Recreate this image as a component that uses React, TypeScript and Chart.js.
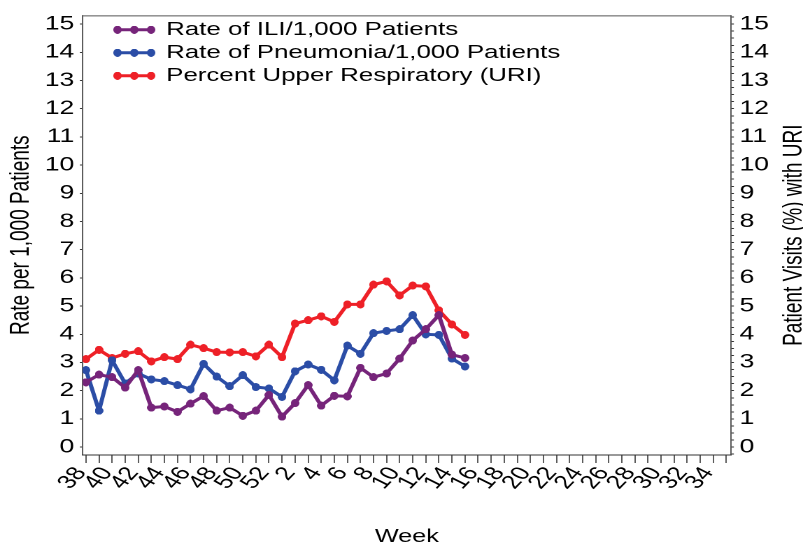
import React, { useEffect, useRef } from "react";
import { Chart, registerables } from "chart.js";

Chart.register(...registerables);

// ---------------- data ----------------
const weekLabels = [
  38, 39, 40, 41, 42, 43, 44, 45, 46, 47, 48, 49, 50, 51, 52,
  1, 2, 3, 4, 5, 6, 7, 8, 9, 10, 11, 12, 13, 14, 15, 16, 17, 18, 19, 20,
  21, 22, 23, 24, 25, 26, 27, 28, 29, 30, 31, 32, 33, 34, 35,
];

const iliRate = [
  2.30, 2.57, 2.48, 2.11, 2.73, 1.40, 1.44, 1.25, 1.54, 1.81, 1.29, 1.40, 1.11, 1.29, 1.85,
  1.08, 1.56, 2.20, 1.47, 1.82, 1.80, 2.81, 2.48, 2.61, 3.14, 3.78, 4.18, 4.68, 3.28, 3.16,
];

const pneumoniaRate = [
  2.73, 1.29, 3.08, 2.26, 2.61, 2.40, 2.34, 2.20, 2.05, 2.95, 2.50, 2.16, 2.55, 2.13, 2.08,
  1.78, 2.69, 2.93, 2.74, 2.37, 3.60, 3.31, 4.04, 4.12, 4.18, 4.68, 4.00, 3.98, 3.14, 2.86,
];

const uriPercent = [
  3.12, 3.45, 3.16, 3.31, 3.40, 3.04, 3.19, 3.12, 3.63, 3.51, 3.37, 3.36, 3.37, 3.22, 3.63,
  3.19, 4.38, 4.50, 4.64, 4.44, 5.06, 5.06, 5.76, 5.88, 5.38, 5.73, 5.70, 4.85, 4.35, 3.98,
];

const seriesNames = [
  "Rate of ILI/1,000 Patients",
  "Rate of Pneumonia/1,000 Patients",
  "Percent Upper Respiratory (URI)",
];
const leftTitle = "Rate per 1,000 Patients";
const rightTitle = "Patient Visits (%) with URI";
const xTitle = "Week";

// ---------------- style ----------------
const COLORS = ["#76247A", "#2B4DA6", "#EE2027"];
const FONT = "'Liberation Sans', Arial, sans-serif";
const CSS_W = 803;
const CSS_H = 544;
const STRETCH = 1.4;
const W = Math.round(CSS_W / STRETCH);
const H = CSS_H;
const AXIS_COLOR = "#333";

function makeImage(w: number, h: number, draw: (ctx: CanvasRenderingContext2D) => void): Promise<HTMLImageElement> {
  const s = 6;
  const c = document.createElement("canvas");
  c.width = w * s;
  c.height = h * s;
  const ctx = c.getContext("2d")!;
  ctx.scale(s, s);
  draw(ctx);
  const img = new Image();
  img.width = w;
  img.height = h;
  return new Promise((resolve) => {
    img.onload = () => resolve(img);
    img.onerror = () => resolve(img);
    img.src = c.toDataURL();
  });
}

function markerImage(color: string) {
  const w = 6, h = 8;
  return makeImage(w, h, (ctx) => {
    ctx.fillStyle = color;
    ctx.beginPath();
    ctx.ellipse(w / 2, h / 2, w / 2, h / 2, 0, 0, Math.PI * 2);
    ctx.fill();
  });
}

function legendImage(color: string) {
  const w = 30, h = 8;
  return makeImage(w, h, (ctx) => {
    ctx.strokeStyle = color;
    ctx.fillStyle = color;
    ctx.lineWidth = 3;
    ctx.beginPath();
    ctx.moveTo(3, h / 2);
    ctx.lineTo(w - 3, h / 2);
    ctx.stroke();
    [3, w / 2, w - 3].forEach((cx) => {
      ctx.beginPath();
      ctx.ellipse(cx, h / 2, 3, 4, 0, 0, Math.PI * 2);
      ctx.fill();
    });
  });
}

const framePlugin = {
  id: "frameTop",
  afterDraw(chart: any) {
    const { ctx, chartArea } = chart;
    ctx.save();
    ctx.strokeStyle = "#555";
    ctx.lineWidth = 1;
    ctx.beginPath();
    ctx.moveTo(chartArea.left, chartArea.top + 0.5);
    ctx.lineTo(chartArea.right, chartArea.top + 0.5);
    ctx.stroke();
    ctx.restore();
  },
};

const rightTitlePlugin = {
  id: "rightTitle",
  afterDraw(chart: any) {
    const { ctx, chartArea } = chart;
    ctx.save();
    ctx.translate(W - 6, (chartArea.top + chartArea.bottom) / 2);
    ctx.rotate(-Math.PI / 2);
    ctx.font = `19px ${FONT}`;
    ctx.fillStyle = "#000";
    ctx.textAlign = "center";
    ctx.textBaseline = "middle";
    ctx.fillText(rightTitle, 0, 0);
    ctx.restore();
  },
};

const legendPlacePlugin = {
  id: "legendPlace",
  afterLayout(chart: any) {
    const lg = chart.legend;
    if (!lg) return;
    const w = lg.width, h = lg.height;
    lg.left = 78;
    lg.right = 78 + w;
    lg.top = 16;
    lg.bottom = 16 + h;
  },
};

export default function App() {
  const ref = useRef<HTMLCanvasElement | null>(null);

  useEffect(() => {
    let chart: Chart | null = null;
    let cancelled = false;
    Promise.all([
      ...COLORS.map((c) => markerImage(c)),
      ...COLORS.map((c) => legendImage(c)),
    ]).then((imgs) => {
      if (cancelled || !ref.current) return;
      const markers = imgs.slice(0, 3);
      const legendImgs = imgs.slice(3);
      const series = [iliRate, pneumoniaRate, uriPercent];
      const tickFont = { size: 19, family: FONT };

      chart = new Chart(ref.current, {
        type: "line",
        data: {
          datasets: series.map((vals, i) => ({
            label: seriesNames[i],
            data: vals.map((v, k) => ({ x: k, y: v })),
            borderColor: COLORS[i],
            backgroundColor: COLORS[i],
            borderWidth: 3,
            pointStyle: markers[i] as any,
            pointRadius: 3,
            tension: 0,
            borderJoinStyle: "round",
            yAxisID: i === 2 ? "y2" : "y",
          })),
        },
        options: {
          responsive: false,
          devicePixelRatio: 2,
          animation: false,
          events: [],
          layout: { padding: { top: 9, left: 0, right: 0, bottom: 0 } },
          plugins: {
            tooltip: { enabled: false },
            legend: {
              position: "chartArea",
              align: "start",
              labels: {
                usePointStyle: true,
                pointStyleWidth: 27,
                padding: 4.5,
                color: "#000",
                font: { size: 18.5, family: FONT },
                generateLabels: (c: any) =>
                  c.data.datasets.map((ds: any, i: number) => ({
                    text: ds.label,
                    pointStyle: legendImgs[i],
                    fillStyle: COLORS[i],
                    strokeStyle: COLORS[i],
                    lineWidth: 0,
                    hidden: false,
                    datasetIndex: i,
                    fontColor: "#000",
                  })),
              },
            },
          },
          scales: {
            x: {
              type: "linear",
              min: -0.25,
              max: 49.36,
              afterFit: (s: any) => {
                s.height = 89;
              },
              border: { color: AXIS_COLOR, width: 1 },
              grid: { drawOnChartArea: false, tickLength: 8, tickColor: AXIS_COLOR, tickWidth: 0.8 },
              ticks: {
                stepSize: 1,
                includeBounds: false,
                autoSkip: false,
                maxRotation: 55,
                minRotation: 55,
                padding: 0,
                labelOffset: -3.5,
                color: "#000",
                font: tickFont,
                callback: (v: any) => {
                  const wk = weekLabels[Math.round(Number(v))];
                  return wk !== undefined && wk % 2 === 0 ? String(wk) : "";
                },
              },
              title: {
                display: true,
                text: xTitle,
                color: "#000",
                font: { size: 18, family: FONT, lineHeight: 0.8 },
                padding: { top: 0, bottom: 0 },
              },
            },
            y: {
              position: "left",
              min: -0.28,
              max: 15.31,
              afterFit: (s: any) => {
                s.width = 59.1;
              },
              border: { color: AXIS_COLOR, width: 0.8 },
              grid: { drawOnChartArea: false, tickLength: 2, tickColor: AXIS_COLOR, tickWidth: 1 },
              ticks: {
                stepSize: 1,
                includeBounds: false,
                autoSkip: false,
                padding: 4,
                color: "#000",
                font: tickFont,
                callback: (v: any) => String(Math.round(Number(v))),
              },
              title: {
                display: true,
                text: leftTitle,
                color: "#000",
                font: { size: 19, family: FONT },
                padding: { top: 4, bottom: 0 },
              },
            },
            y2: {
              position: "right",
              min: -0.28,
              max: 15.31,
              afterFit: (s: any) => {
                s.width = W - 522.6;
              },
              border: { color: AXIS_COLOR, width: 0.8 },
              grid: { drawOnChartArea: false, tickLength: 2, tickColor: AXIS_COLOR, tickWidth: 1 },
              ticks: {
                stepSize: 0.25,
                includeBounds: false,
                autoSkip: false,
                padding: 4,
                color: "#000",
                font: tickFont,
                callback: (v: any) => {
                  const n = Number(v);
                  return Math.abs(n - Math.round(n)) < 1e-6 ? String(Math.round(n)) : "";
                },
              },
            },
          },
        },
        plugins: [legendPlacePlugin, framePlugin, rightTitlePlugin],
      } as any);
    });
    return () => {
      cancelled = true;
      if (chart) chart.destroy();
    };
  }, []);

  return (
    <canvas
      ref={ref}
      width={W}
      height={H}
      style={{ position: "absolute", left: 0, top: 0, width: `${CSS_W}px`, height: `${CSS_H}px` }}
    />
  );
}
